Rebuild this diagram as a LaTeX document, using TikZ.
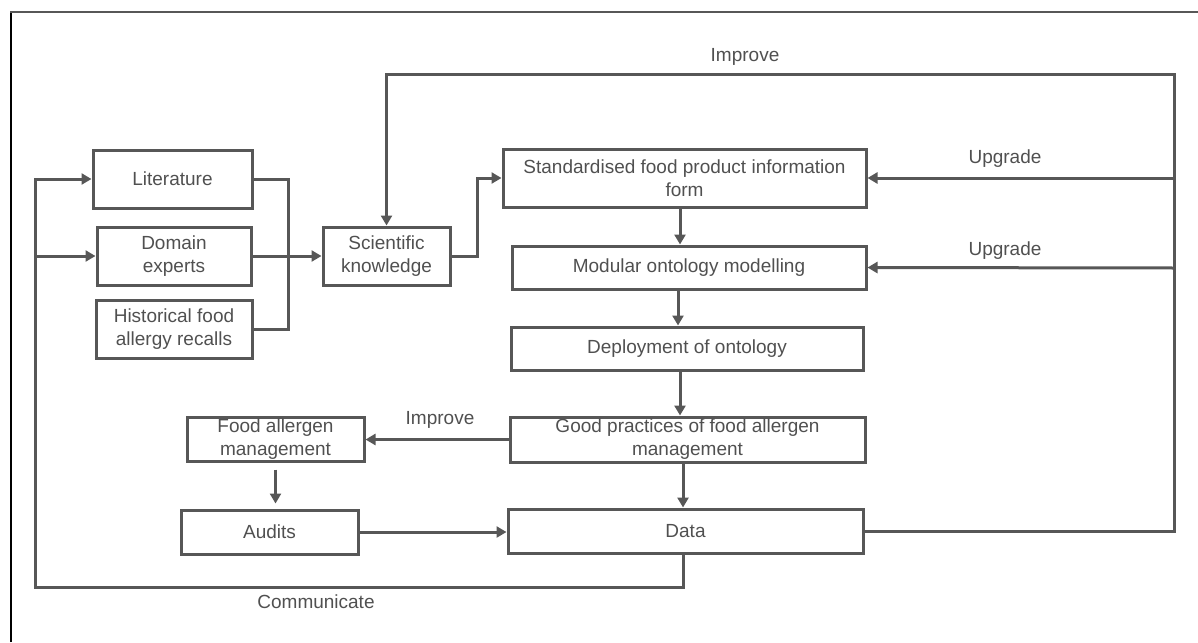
\documentclass[tikz,border=0pt]{standalone}
\usepackage{fontspec}
\setmainfont{Liberation Sans}
\usetikzlibrary{arrows.meta,calc}
\definecolor{ln}{HTML}{575757}
\definecolor{tx}{HTML}{505050}
\tikzset{
  box/.style={draw=ln, line width=3pt, inner sep=0pt, align=center, text=tx,
    font=\fontsize{19}{23}\selectfont},
  conn/.style={draw=ln, line width=3pt},
  arr/.style={conn, -{Triangle[length=10pt,width=11pt]}},
  lbl/.style={text=tx, font=\fontsize{19}{23}\selectfont, inner sep=0pt}
}
\begin{document}
\begin{tikzpicture}[x=1pt,y=-1pt]
\useasboundingbox (0,0) rectangle (1198,642);
\draw[black, line width=1.3pt] (11,642) -- (11,12);
\draw[ln, line width=2pt] (10.4,12) -- (1198,12);

\node[box, minimum width=159pt, minimum height=58pt] (lit) at (172.5,179) {Literature};
\node[box, minimum width=154pt, minimum height=58pt] (dom) at (174,256) {Domain\\experts};
\node[box, minimum width=156pt, minimum height=58pt] (hist) at (174,329) {Historical food\\allergy recalls};
\node[box, minimum width=127pt, minimum height=58pt] (sci) at (386.5,256) {Scientific\\knowledge};
\node[box, minimum width=363pt, minimum height=58pt] (std) at (684.5,178) {Standardised food product information\\form};
\node[box, minimum width=354pt, minimum height=43pt] (mod) at (689,267.5) {Modular ontology modelling};
\node[box, minimum width=352pt, minimum height=43pt] (dep) at (687,348.5) {Deployment of ontology};
\node[box, minimum width=177pt, minimum height=44pt] (fam) at (275.5,439) {Food allergen\\management};
\node[box, minimum width=355pt, minimum height=45pt] (gp) at (687.5,439.5) {Good practices of food allergen\\management};
\node[box, minimum width=177pt, minimum height=44pt] (aud) at (269.5,532) {Audits};
\node[box, minimum width=355pt, minimum height=44pt] (data) at (685.5,531) {Data};

\coordinate (m) at (288,256);
\coordinate (s1) at (477,256);
\coordinate (rt) at (1174,74);
\coordinate (r1) at (1174,178);
\coordinate (r2) at (1174,268);
\coordinate (cl) at (35,587);
\coordinate (a1) at ($(std.south)+(-4.5,0)$);
\coordinate (a2) at ($(mod.south)+(-11,0)$);
\coordinate (a3) at ($(dep.south)+(-7,0)$);
\coordinate (a4) at ($(gp.south)+(-4.5,0)$);
\coordinate (a5) at ($(data.south)+(-2.5,0)$);

% inputs to scientific knowledge
\draw[conn] (lit.east) -| (m) |- (hist.east);
\draw[arr] (dom.east) -- (sci.west);
\draw[arr] (sci.east) -- (s1) |- (std.west);

% main column
\draw[arr] (a1) -- (a1 |- mod.north);
\draw[arr] (a2) -- (a2 |- dep.north);
\draw[arr] (a3) -- (a3 |- gp.north);
\draw[arr] (a4) -- (a4 |- data.north);

% feedback on the right
\draw[arr] (data.east) -| (rt) -| (sci.north);
\draw[arr] (r1) -- (std.east);
\draw[arr] (r2) -- (mod.east);

% lower left
\draw[arr] (gp.west) -- (gp.west -| fam.east);
\draw[arr, shorten <=7pt, shorten >=5pt] (fam.south) -- (fam.south |- aud.north);
\draw[arr] (aud.east) -- (aud.east -| data.west);

% communicate loop
\draw[arr] (a5) |- (cl) |- (lit.west);
\draw[arr] (cl |- dom.west) -- (dom.west);

% labels
\node[lbl] (limp1) at (745,57) {Improve};
\node[lbl] (lup1) at (1005,159) {Upgrade};
\node[lbl] (lup2) at (1005,251) {Upgrade};
\node[lbl] (limp2) at (440,420) {Improve};
\node[lbl] (lcom) at (316,602) {Communicate};
\end{tikzpicture}
\end{document}
